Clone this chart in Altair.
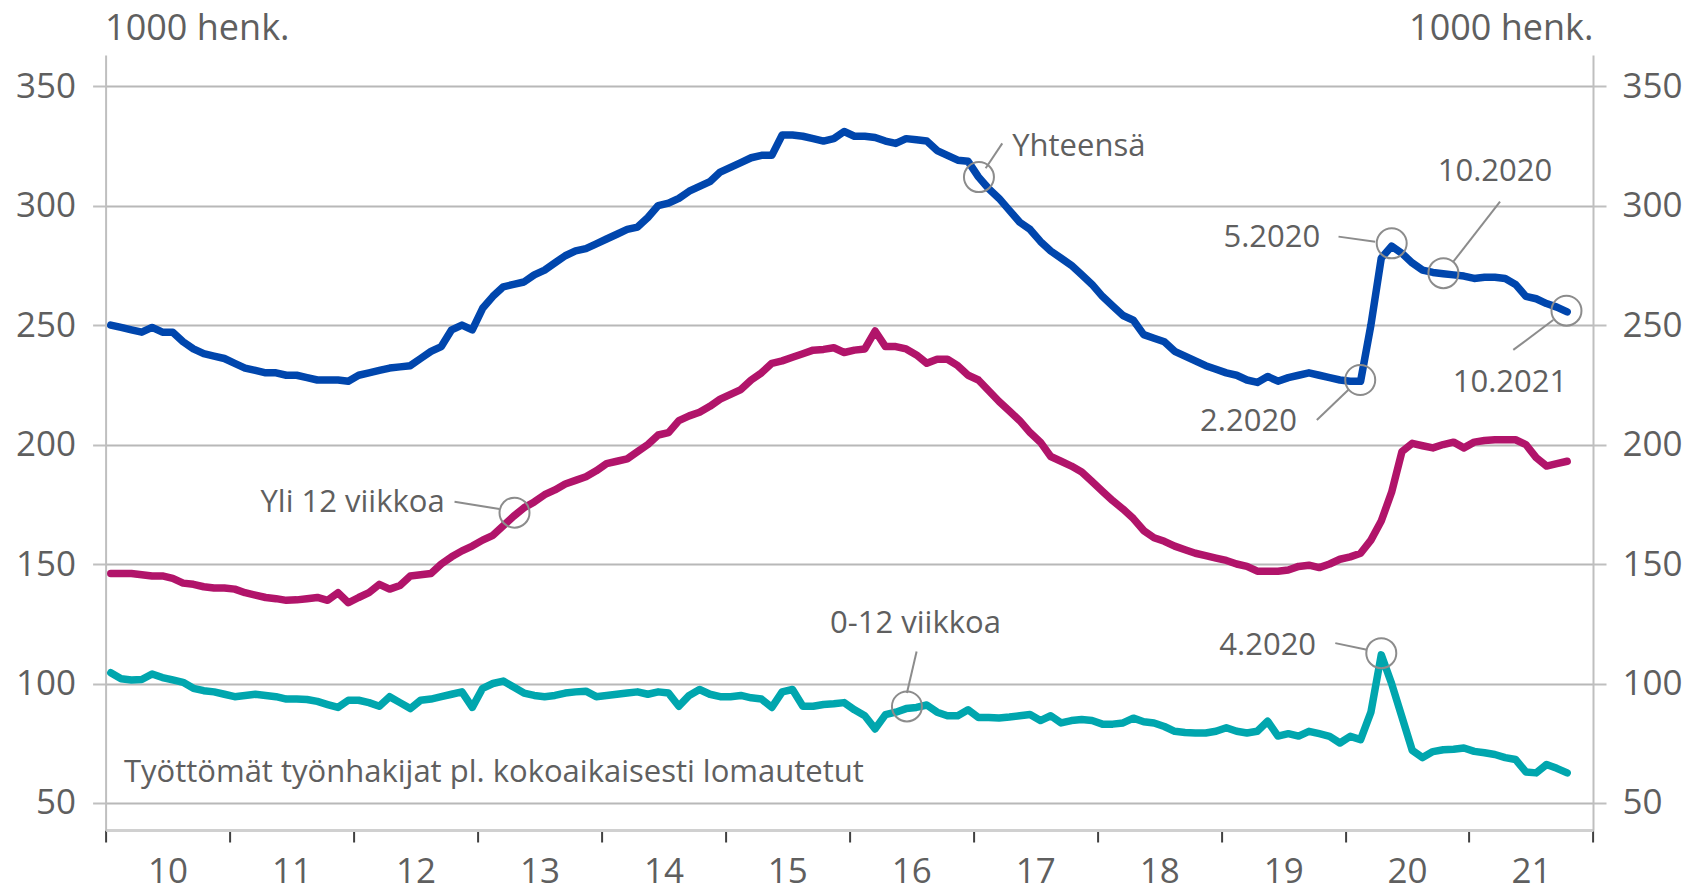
import altair as alt
import pandas as pd

START_YEAR = 2010

# Työttömät työnhakijat, 1000 henk., monthly from 1.2010 to 10.2021
yhteensa = [
    250, 249, 248, 247, 249, 247, 247, 243, 240, 238, 237, 236,
    234, 232, 231, 230, 230, 229, 229, 228, 227, 227, 227, 226.5,
    229, 230, 231, 232, 232.5, 233, 236, 239, 241, 248, 250, 248,
    257, 262, 266, 267, 268, 271, 273, 276, 279, 281, 282, 284,
    286, 288, 290, 291, 295, 300, 301, 303, 306, 308, 310, 314,
    316, 318, 320, 321, 321, 329.5, 329.5, 329, 328, 327, 328, 331,
    329, 329, 328.5, 327, 326, 328, 327.5, 327, 323, 321, 319, 318.5,
    312, 307, 303, 298, 293, 290, 285, 281, 278, 275, 271, 267,
    262, 258, 254, 252, 246, 244.5, 243, 239, 237, 235, 233, 231.5,
    230, 229, 227, 226, 228.5, 226.5, 228, 229, 230, 229, 228, 227,
    226.5, 226.5, 250, 278, 283, 280, 276, 273, 272, 271.5, 271, 270.5,
    269.5, 270, 270, 269.5, 267, 262, 261, 259, 257.5, 255.5,
]
yli_12 = [
    146, 146, 146, 145.5, 145, 145, 144, 142, 141.5, 140.5, 140, 140,
    139.5, 138, 137, 136, 135.5, 134.8, 135, 135.5, 136, 134.8, 138, 133.8,
    136, 138, 141.5, 139.5, 141, 145, 145.5, 146, 150, 153, 155.5, 157.5,
    160, 162, 166, 170, 173.5, 176, 179, 181, 183.5, 185, 186.5, 189,
    192, 193, 194, 197, 200, 204, 205, 210, 212, 213.5, 216, 219,
    221, 223, 227, 230, 234, 235, 236.5, 238, 239.5, 239.8, 240.5, 238.5,
    239.5, 240, 247.5, 241, 241, 240, 237.5, 234, 235.7, 235.7, 233, 229,
    227, 222.5, 218, 214, 210, 205, 201, 195, 193, 191, 188.5, 184.5,
    180.5, 176.5, 173, 169, 164, 161, 159.5, 157.5, 156, 154.5, 153.5, 152.5,
    151.5, 150, 149, 147, 147, 147, 147.5, 149, 149.5, 148.5, 150, 152,
    153, 154.5, 160, 168, 180, 197, 200.5, 199.5, 198.6, 200, 201, 198.6,
    201, 201.7, 202, 202, 202, 200, 194.5, 191, 192, 193,
]
alle_12 = [
    104.5, 102, 101.5, 101.7, 104, 102.5, 101.5, 100.5, 98, 97, 96.5, 95.5,
    94.5, 95, 95.5, 95, 94.5, 93.5, 93.5, 93.3, 92.5, 91.2, 90, 93,
    93, 92, 90.5, 94.5, 92, 89.5, 93, 93.5, 94.5, 95.5, 96.5, 90,
    98, 100, 101, 98.5, 96, 95, 94.5, 95, 96, 96.5, 96.8, 94.5,
    95, 95.5, 96, 96.5, 95.5, 96.5, 96, 90.5, 95, 97.5, 95.5, 94.5,
    94.5, 95, 94, 93.5, 90, 96.5, 97.5, 90.5, 90.5, 91.2, 91.5, 92,
    89, 86.5, 81, 87, 88, 89.5, 90, 91, 88, 86.5, 86.5, 89,
    85.8, 85.8, 85.6, 86, 86.5, 87, 84.5, 86.5, 83.5, 84.5, 84.9, 84.5,
    83, 83, 83.5, 85.5, 84, 83.5, 82, 80, 79.5, 79.3, 79.3, 80,
    81.5, 80, 79.3, 80, 84.2, 78, 79, 78, 80, 79, 77.9, 75.1,
    77.9, 76.5, 88, 112, 100, 86, 72, 69, 71.5, 72.3, 72.5, 73,
    71.6, 71, 70.3, 69, 68.2, 63, 62.6, 66.1, 64.5, 62.6,
]

series_names = ["Yhteensä", "Yli 12 viikkoa", "0-12 viikkoa"]
series_colors = ["#0046ad", "#b1146a", "#00a6ae"]

y_ticks = [50, 100, 150, 200, 250, 300, 350]
x_ticks = list(range(2010, 2023))

# annotations (data coordinates)
label_text = ["Yhteensä", "5.2020", "10.2020", "2.2020", "10.2021",
              "Yli 12 viikkoa", "0-12 viikkoa", "4.2020",
              "Työttömät työnhakijat pl. kokoaikaisesti lomautetut"]
label_x = [2017.314, 2019.799, 2021.209, 2019.611, 2021.330,
           2012.735, 2016.534, 2019.766, 2010.148]
label_y = [324.6, 286.3, 314.2, 209.6, 225.7, 175.5, 125.0, 115.5, 62.7]
label_align = ["left", "right", "center", "right", "center",
               "right", "center", "right", "left"]

circle_x = [2017.046, 2020.376, 2020.793, 2020.122, 2021.786, 2013.299, 2016.465, 2020.292]
circle_y = [311.9, 284.2, 271.7, 227.0, 256.0, 171.5, 90.4, 112.7]

leader_x = [2017.100, 2019.947, 2021.250, 2019.772, 2021.357, 2012.815, 2016.543, 2019.921]
leader_y = [315.6, 287.0, 301.6, 210.3, 239.6, 176.1, 113.4, 116.9]
leader_x2 = [2017.234, 2020.243, 2020.873, 2020.027, 2021.679, 2013.178, 2016.465, 2020.176]
leader_y2 = [326.0, 284.9, 276.5, 222.9, 252.1, 173.0, 96.0, 114.1]

rows = []
for name, vals in zip(series_names, [yhteensa, yli_12, alle_12]):
    for i, v in enumerate(vals):
        rows.append({"s": name, "t": START_YEAR + (i + 0.5) / 12.0, "v": v})
df = pd.DataFrame(rows)

labels_df = pd.DataFrame({"text": label_text, "x": label_x, "y": label_y, "align": label_align})
circles_df = pd.DataFrame({"x": circle_x, "y": circle_y})
leaders_df = pd.DataFrame({"x": leader_x, "y": leader_y, "x2": leader_x2, "y2": leader_y2})

FONT = "Open Sans"
TXT = "#5f5f5f"
GRID = "#b8b8b8"
AX = "#bfbfbf"
ANN = "#8c8c8c"

xscale = alt.Scale(domain=[2010, 2022], nice=False, zero=False)
yscale = alt.Scale(domain=[38.7, 363.0], nice=False, zero=False)

x_axis = alt.Axis(
    values=x_ticks,
    labelExpr="datum.value < 2022 ? '' + (datum.value - 2000) : ''",
    labelOffset=62, labelFontSize=35, labelFont=FONT, labelColor=TXT,
    labelPadding=12, labelFlush=False, labelOverlap=False,
    tickSize=12, tickColor="#404040", tickWidth=2,
    domainColor="#d0d0d0", domainWidth=3, grid=False, title=None,
)
y_left = alt.Axis(
    values=y_ticks, orient="left",
    title="1000 henk.", titleAngle=0, titleAlign="left", titleBaseline="middle",
    titleX=-1, titleY=-27, titleFontSize=36, titleFont=FONT, titleColor=TXT,
    titleFontWeight="normal",
    labelFontSize=35, labelFont=FONT, labelColor=TXT, labelPadding=17,
    tickSize=13, tickColor=AX, tickWidth=2, domainColor=AX, domainWidth=2,
    grid=True, gridColor=GRID, gridWidth=2,
)
y_right = alt.Axis(
    values=y_ticks, orient="right",
    title="1000 henk.", titleAngle=0, titleAlign="right", titleBaseline="middle",
    titleX=0, titleY=-27, titleFontSize=36, titleFont=FONT, titleColor=TXT,
    titleFontWeight="normal",
    labelFontSize=35, labelFont=FONT, labelColor=TXT, labelPadding=16,
    tickSize=13, tickColor=AX, tickWidth=2, domainColor=AX, domainWidth=2,
    grid=False,
)

X = alt.X("t:Q", scale=xscale, axis=x_axis)

lines = alt.Chart(df).mark_line(strokeWidth=7.5, strokeJoin="round", strokeCap="round").encode(
    x=X,
    y=alt.Y("v:Q", scale=yscale, axis=y_left),
    color=alt.Color("s:N", scale=alt.Scale(domain=series_names, range=series_colors), legend=None),
    detail="s:N",
)

right_axis_layer = alt.Chart(df).mark_point(opacity=0, size=1).encode(
    x=X,
    y=alt.Y("v:Q", scale=yscale, axis=y_right),
)

leaders = alt.Chart(leaders_df).mark_rule(color=ANN, strokeWidth=2).encode(
    x=alt.X("x:Q", scale=xscale, axis=x_axis),
    y=alt.Y("y:Q", scale=yscale, axis=None),
    x2="x2:Q", y2="y2:Q",
)

circles = alt.Chart(circles_df).mark_point(
    shape="circle", size=900, filled=False, color=ANN, strokeWidth=2, opacity=1
).encode(
    x=alt.X("x:Q", scale=xscale, axis=x_axis),
    y=alt.Y("y:Q", scale=yscale, axis=None),
)

text_layers = []
for al in ["left", "right", "center"]:
    text_layers.append(
        alt.Chart(labels_df).transform_filter(alt.datum.align == al).mark_text(
            align=al, baseline="middle", font=FONT, fontSize=31, color=TXT
        ).encode(
            x=alt.X("x:Q", scale=xscale, axis=x_axis),
            y=alt.Y("y:Q", scale=yscale, axis=None),
            text="text:N",
        )
    )

chart = alt.layer(lines, right_axis_layer, leaders, circles, *text_layers).resolve_axis(
    y="independent"
).properties(
    width=1487.4, height=775,
    autosize=alt.AutoSizeParams(type="none"),
    padding={"left": 97.6, "top": 47, "right": 89, "bottom": 54},
    background="white",
).configure_view(stroke=None)

chart.save("out.html", embed_options={"renderer": "svg", "actions": False})
